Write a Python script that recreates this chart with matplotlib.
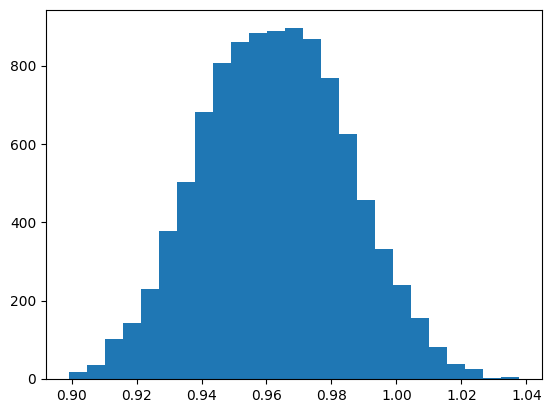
import numpy as np
import matplotlib
matplotlib.use("Agg")
import matplotlib.pyplot as plt

# histogram: 25 equal bins
bin_lo = 0.89908
bin_hi = 1.03785
counts = [19, 36, 102, 143, 229, 378, 504, 683, 808, 861, 884, 889, 897,
          869, 769, 627, 456, 331, 239, 155, 82, 38, 25, 3, 5]

edges = np.linspace(bin_lo, bin_hi, len(counts) + 1)
centers = (edges[:-1] + edges[1:]) / 2

fig = plt.figure(figsize=(5.52, 4.13), dpi=100)
ax = fig.add_axes([46 / 552, 1 - 379 / 413, 496 / 552, 368.7 / 413])
ax.hist(centers, bins=edges, weights=counts)

fig.savefig("out.png", dpi=100)
